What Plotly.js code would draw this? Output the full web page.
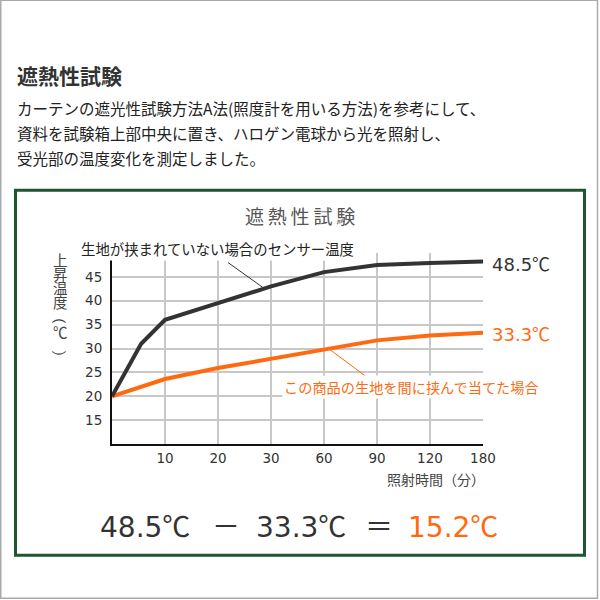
<!DOCTYPE html>
<html>
<head>
<meta charset="utf-8">
<script src="https://cdn.plot.ly/plotly-3.0.1.min.js"></script>
<style>html,body{margin:0;padding:0;background:#fff;}#chart{width:600px;height:600px;}</style>
</head>
<body>
<div id="chart"></div>
<script>
// ---- data ----
const TIME_TICKS = [0, 10, 20, 30, 60, 90, 120, 180];
const TICK_LABELS = ['', '10', '20', '30', '60', '90', '120', '180'];
const Y_TICKS = [15, 20, 25, 30, 35, 40, 45, 50];
const Y_LABELS = ['15', '20', '25', '30', '35', '40', '45', ''];
const timeNoFabric = [0, 5.5, 10, 20, 30, 60, 90, 120, 180];
const tempNoFabric = [20, 31.0, 36.0, 39.5, 43.0, 46.0, 47.5, 47.9, 48.2];
const timeFabric = [0, 10, 20, 30, 60, 90, 120, 180];
const tempFabric = [20, 23.6, 25.9, 27.8, 29.9, 31.7, 32.7, 33.3];
const labelNoFabric = '生地が挟まれていない場合のセンサー温度';
const labelFabric = 'この商品の生地を間に挟んで当てた場合';
const endNoFabric = '48.5℃';
const endFabric = '33.3℃';
const resultParts = ['48.5℃', '－', '33.3℃', '＝', '15.2℃'];
const pageTitle = '遮熱性試験';
const paragraph = [
  'カーテンの遮光性試験方法A法(照度計を用いる方法)を参考にして、',
  '資料を試験箱上部中央に置き、ハロゲン電球から光を照射し、',
  '受光部の温度変化を測定しました。'
];
const chartTitle = '遮熱性試験';
const yTitleChars = ['上', '昇', '温', '度', '（', '℃', '）'];
const xTitle = '照射時間（分）';

// ---- helpers ----
const ORANGE = '#ff6a10';
const DARK = '#333333';
const FONT = '"Noto Sans CJK JP", "Noto Sans", sans-serif';
const NUMFONT = '"DejaVu Sans", "Noto Sans CJK JP", sans-serif';
const L = 112, R = 483, T = 253, B = 443.6;
const pxX = x => (x - L) / (R - L);
const pxY = y => (B - y) / (B - T);
function toIdx(t) {
  for (let i = 0; i < TIME_TICKS.length - 1; i++) {
    if (t <= TIME_TICKS[i + 1]) return i + (t - TIME_TICKS[i]) / (TIME_TICKS[i + 1] - TIME_TICKS[i]);
  }
  return TIME_TICKS.length - 1;
}
function cel(s) {
  const num = s.replace('℃', '');
  return num + '<span style="font-family:\'Noto Sans CJK JP\'">℃</span>';
}

const traces = [
  {x: timeFabric.map(toIdx), y: tempFabric, mode: 'lines', line: {color: ORANGE, width: 4}, hoverinfo: 'skip'},
  {x: timeNoFabric.map(toIdx), y: tempNoFabric, mode: 'lines', line: {color: DARK, width: 4}, hoverinfo: 'skip'}
];

const ann = [];
function txt(text, x, y, size, color, xanchor, extra, family) {
  ann.push(Object.assign({text: text, x: pxX(x), y: pxY(y), xref: 'paper', yref: 'paper',
    xanchor: xanchor || 'center', yanchor: 'middle', showarrow: false,
    font: {family: family || FONT, size: size, color: color}}, extra || {}));
}
txt('<b>' + pageTitle + '</b>', 15, 75, 21, DARK, 'left');
paragraph.forEach((p, i) => txt(p, 15, 108 + i * 25, 15.5, '#222', 'left'));
txt(chartTitle.split('').join('\u2009'), 300, 216, 19, '#555', 'center');
const yTitlePos = [259, 273, 287, 301, 316, 331, 357];
yTitleChars.forEach((c, i) => {
  const rot = (c === '（' || c === '）') ? {textangle: 90} : {};
  txt(c, 60, yTitlePos[i], 14.5, '#444', 'center', rot);
});
txt(xTitle, 487, 479, 14, '#444', 'right');
txt(labelNoFabric, 217, 249, 14.4, '#222', 'center', {bgcolor: '#fff', borderpad: 1});
txt(labelFabric, 411, 387, 14.2, ORANGE, 'center', {bgcolor: '#fff', borderpad: 1});
txt(cel(endNoFabric), 490, 263, 18, DARK, 'left', null, NUMFONT);
txt(cel(endFabric), 490, 333, 18, ORANGE, 'left', null, NUMFONT);
// result line
txt(cel(resultParts[0]), 98, 524, 28, DARK, 'left', null, NUMFONT);
txt(resultParts[1], 226, 524, 28, DARK, 'center');
txt(cel(resultParts[2]), 254, 524, 28, DARK, 'left', null, NUMFONT);
txt(resultParts[3], 379, 524, 28, DARK, 'center');
txt(cel(resultParts[4]), 406, 524, 28, ORANGE, 'left', null, NUMFONT);

const shapes = [
  {type: 'rect', xref: 'paper', yref: 'paper', x0: pxX(0.75), x1: pxX(597.5), y0: pxY(0.75), y1: pxY(597.5),
   line: {color: '#aaaaaa', width: 1.5}, layer: 'below'},
  {type: 'rect', xref: 'paper', yref: 'paper', x0: pxX(15.5), x1: pxX(584.5), y0: pxY(190.5), y1: pxY(554.5),
   line: {color: '#1e5632', width: 3}, layer: 'below'},
  {type: 'line', xref: 'paper', yref: 'paper', x0: pxX(228), y0: pxY(262.5), x1: pxX(263), y1: pxY(287.5),
   line: {color: '#333', width: 1}},
  {type: 'line', xref: 'paper', yref: 'paper', x0: pxX(330), y0: pxY(349.5), x1: pxX(365), y1: pxY(375.5),
   line: {color: ORANGE, width: 1}}
];

const layout = {
  width: 600, height: 600, autosize: false,
  margin: {l: L, r: 600 - R, t: T, b: 600 - B, pad: 0},
  paper_bgcolor: '#fff', plot_bgcolor: '#fff',
  showlegend: false,
  xaxis: {range: [0, 7], tickmode: 'array', tickvals: TIME_TICKS.map(toIdx), ticktext: TICK_LABELS,
    showgrid: true, gridcolor: '#c8c8c8', gridwidth: 2, zeroline: false,
    showline: true, linecolor: '#111', linewidth: 2,
    ticks: 'outside', ticklen: 0.5, tickcolor: 'rgba(0,0,0,0)',
    tickfont: {family: NUMFONT, size: 13.5, color: DARK}, fixedrange: true},
  yaxis: {range: [10, 50], tickmode: 'array', tickvals: Y_TICKS, ticktext: Y_LABELS,
    showgrid: true, gridcolor: '#c8c8c8', gridwidth: 2, zeroline: false,
    showline: true, linecolor: '#111', linewidth: 2,
    ticks: 'outside', ticklen: 5, tickcolor: 'rgba(0,0,0,0)',
    tickfont: {family: NUMFONT, size: 13.5, color: DARK}, fixedrange: true},
  annotations: ann,
  shapes: shapes
};

Plotly.newPlot('chart', traces, layout, {staticPlot: true, displayModeBar: false});
</script>
</body>
</html>
